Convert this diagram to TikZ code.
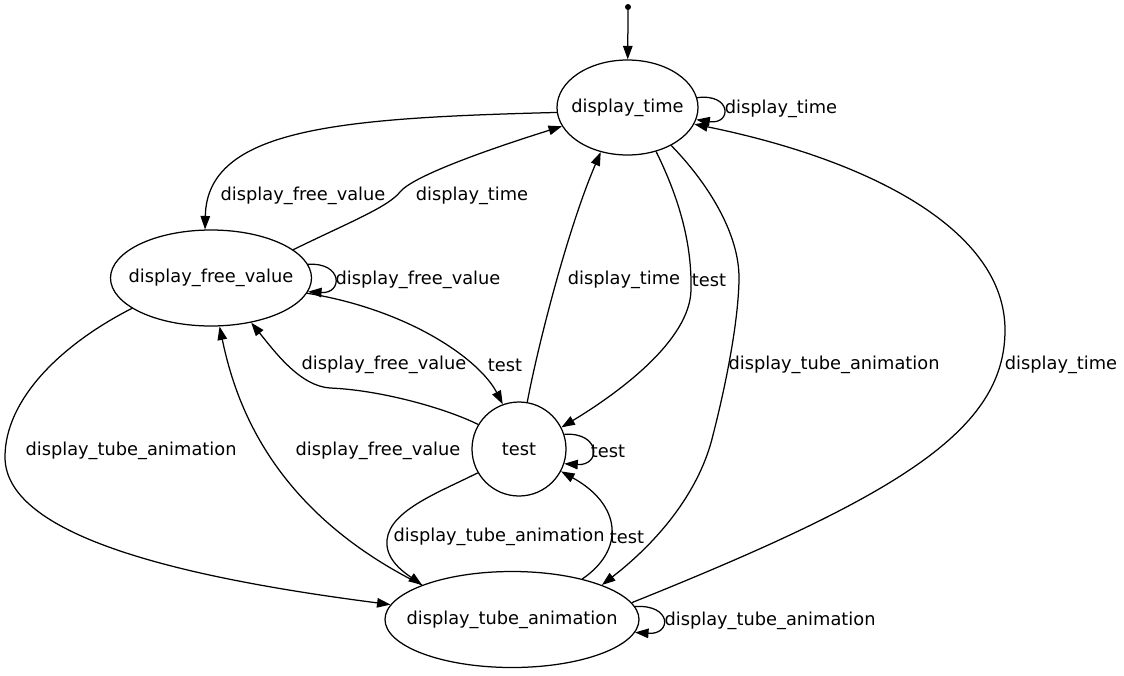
\documentclass[tikz,border=0pt]{standalone}
\usepackage{fontspec}
\setmainfont{DejaVu Sans}
\usetikzlibrary{arrows.meta,shapes.geometric}
\newcommand{\statetext}[1]{\makebox[0pt]{\raisebox{-1.5pt}{#1}}}
\begin{document}
\begin{tikzpicture}[x=1pt,y=-1pt,
  state/.style={draw, line width=1.25pt, inner sep=0pt, font=\fontsize{17.8}{20}\selectfont},
  oval/.style={state, ellipse},
  edge/.style={line width=1.25pt, -{Triangle[length=13.5pt,width=9.5pt]}},
  lbl/.style={inner sep=0pt, yshift=-2pt, font=\fontsize{17.8}{20}\selectfont}]
\useasboundingbox (0,0) rectangle (1124,675);

% states
\node[circle, fill, inner sep=0pt, minimum size=6pt] (start) at (628,7) {};
\node[oval, minimum width=141pt, minimum height=95pt] (dt) at (627.5,107.5) {\statetext{display\_time}};
\node[oval, minimum width=201pt, minimum height=96pt] (dfv) at (211,278) {\statetext{display\_free\_value}};
\node[state, circle, minimum size=94pt] (test) at (519,449) {\statetext{test}};
\node[oval, minimum width=254pt, minimum height=96pt] (dta) at (512,619.5) {\statetext{display\_tube\_animation}};

% transitions
\draw[edge] (start) -- (dt);
\draw[edge] (dt.8) .. controls (732,93) and (732,125) .. (dt.-10);
\draw[edge] (dt.184) .. controls (340,118) and (207,128) .. (dfv.97);
\draw[edge] (dfv.19) .. controls (350,222) and (388,207) .. (400,192)
  .. controls (412,177) and (480,152) .. (dt.196);
\draw[edge] (dfv.8) .. controls (343,262) and (343,294) .. (dfv.-8);
\draw[edge] (dfv.-9) .. controls (410,310) and (480,360) .. (test.110);
\draw[edge] (test.149) .. controls (445,408) and (380,390) .. (330,388)
  .. controls (300,386) and (275,352) .. (dfv.-48);
\draw[edge] (test.80) .. controls (538,345) and (568,228) .. (dt.-121);
\draw[edge] (dt.-57) .. controls (680,200) and (692,245) .. (691,290)
  .. controls (690,340) and (620,392) .. (test.27);
\draw[edge] (dt.-41) .. controls (705,180) and (740,232) .. (739,280)
  .. controls (738,330) and (722,400) .. (713,435)
  .. controls (700,490) and (660,540) .. (dta.21);
\draw[edge] (dta.8) .. controls (900,495) and (1005,430) .. (1005,330)
  .. controls (1005,230) and (870,160) .. (dt.-14);
\draw[edge] (test.18) .. controls (601,432) and (601,466) .. (test.-18);
\draw[edge] (test.210) .. controls (440,492) and (390,510) .. (387,540)
  .. controls (385,560) and (405,573) .. (dta.159);
\draw[edge] (dta.30) .. controls (625,550) and (622,505) .. (test.-28);
\draw[edge] (dta.159) .. controls (270,510) and (235,400) .. (dfv.-80);
\draw[edge] (dfv.201) .. controls (60,345) and (5,400) .. (5,457)
  .. controls (5,540) and (200,580) .. (dta.173);
\draw[edge] (dta.6) .. controls (672,604) and (672,635) .. (dta.-6);

% transition labels
\node[lbl] (lb1) at (781,107) {display\_time};
\node[lbl] (lb2) at (303,194) {display\_free\_value};
\node[lbl] (lb3) at (472,194) {display\_time};
\node[lbl] (lb4) at (418,278) {display\_free\_value};
\node[lbl] (lb5) at (505,363) {test};
\node[lbl] (lb6) at (384,363) {display\_free\_value};
\node[lbl] (lb7) at (624,278) {display\_time};
\node[lbl] (lb8) at (709,278) {test};
\node[lbl] (lb9) at (834,363) {display\_tube\_animation};
\node[lbl] (lb10) at (1061,363) {display\_time};
\node[lbl] (lb11) at (608,449) {test};
\node[lbl] (lb12) at (499,535) {display\_tube\_animation};
\node[lbl] (lb13) at (627,535) {test};
\node[lbl] (lb14) at (378,449) {display\_free\_value};
\node[lbl] (lb15) at (131,449) {display\_tube\_animation};
\node[lbl] (lb16) at (770,619) {display\_tube\_animation};
\end{tikzpicture}
\end{document}
